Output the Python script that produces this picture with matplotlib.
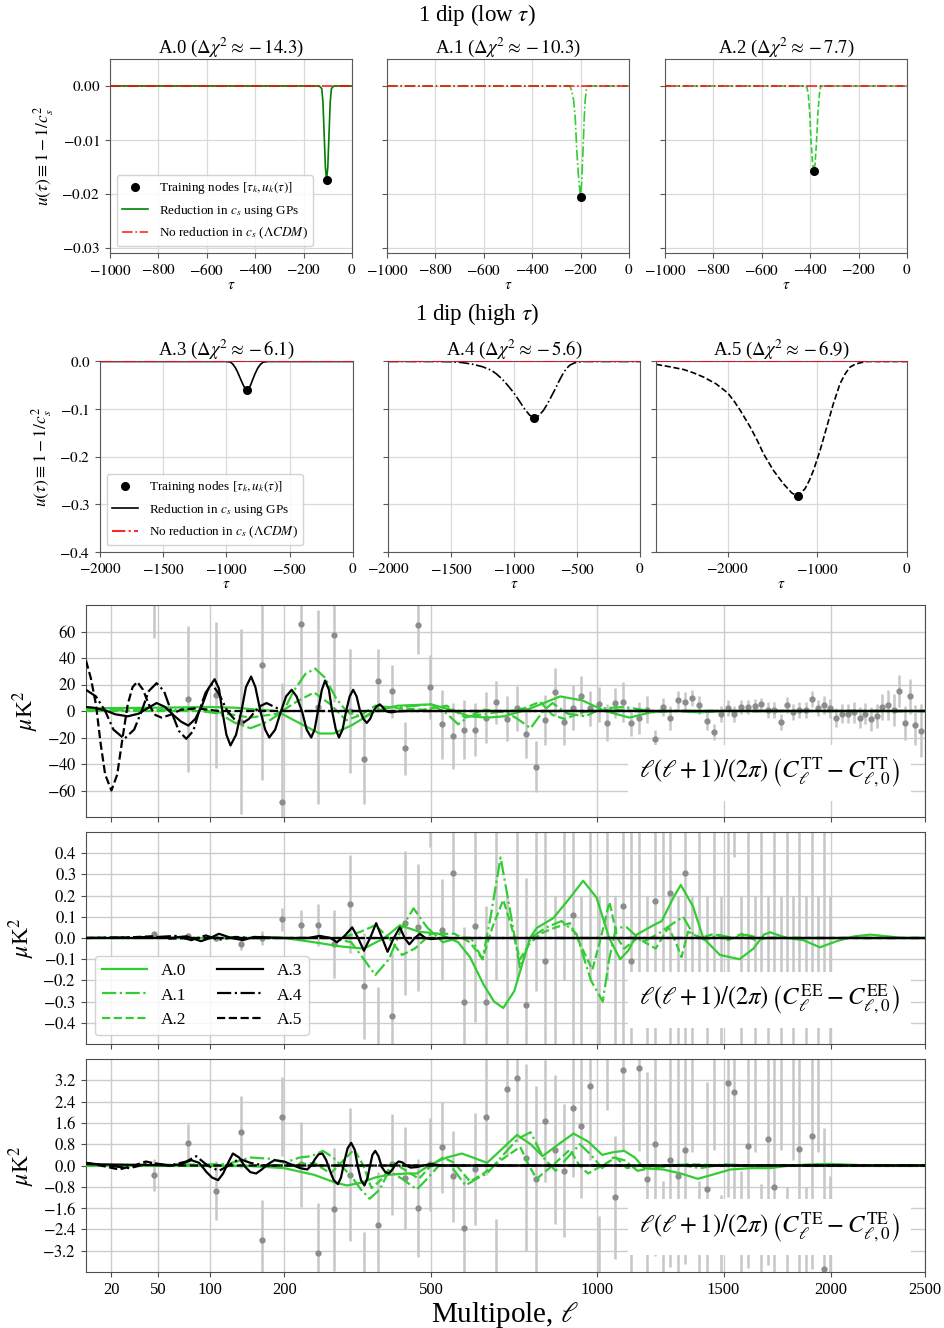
import numpy as np
import matplotlib.pyplot as plt
from matplotlib.ticker import FuncFormatter

plt.rcParams['font.family'] = 'serif'
plt.rcParams['font.serif'] = ['Liberation Serif', 'DejaVu Serif']
plt.rcParams['mathtext.fontset'] = 'stix'

# ---------------- top rows: u(tau) reconstructions ----------------
tau_A0 = [-1000, -135, -125, -120, -115, -110, -105, -100, -95, -90, -85, -75, 0]
u_A0 = [0, 0, -0.0005, -0.003, -0.009, -0.015, -0.0175, -0.015, -0.009, -0.003, -0.0005, 0, 0]
node_A0 = (-105, -0.0175)

tau_A1 = [-1000, -245, -237, -229, -222, -216, -210, -205, -200, -195, -190, -185, -181, -176, -170, 0]
u_A1 = [0, 0, -0.0008, -0.0026, -0.006, -0.0118, -0.016, -0.0186, -0.0207, -0.0175, -0.0118, -0.006,
        -0.0026, -0.0006, 0, 0]
node_A1 = (-200, -0.0207)

tau_A2 = [-1000, -415, -408, -402, -396, -390, -385, -380, -374, -368, -362, -356, 0]
u_A2 = [0, 0, -0.0015, -0.005, -0.0105, -0.0145, -0.0158, -0.0145, -0.0105, -0.005, -0.0015, 0, 0]
node_A2 = (-385, -0.0158)

tau_A3 = [-2000, -1010, -970, -950, -930, -911, -890, -872, -855, -840, -825, -810, -793, -773, -753,
          -733, -713, -690, -660, 0]
u_A3 = [0, 0, -0.001, -0.0056, -0.013, -0.023, -0.036, -0.047, -0.056, -0.06, -0.057, -0.05, -0.038,
        -0.025, -0.014, -0.0065, -0.002, -0.0005, 0, 0]
node_A3 = (-840, -0.06)

tau_A4 = [-2000, -1600, -1510, -1420, -1331, -1250, -1183, -1140, -1094, -1050, -1004, -960, -915, -875,
          -840, -805, -767, -737, -707, -677, -648, -618, -588, -558, -529, -500, -450, 0]
u_A4 = [0, 0, -0.0005, -0.002, -0.0056, -0.011, -0.018, -0.026, -0.037, -0.05, -0.065, -0.082, -0.1,
        -0.113, -0.117, -0.114, -0.103, -0.09, -0.075, -0.06, -0.044, -0.029, -0.016, -0.008, -0.004,
        -0.0015, 0, 0]
node_A4 = (-838, -0.118)

tau_A5 = [-2800, -2650, -2489, -2380, -2267, -2130, -2000, -1930, -1859, -1748, -1670, -1600, -1489,
          -1378, -1285, -1219, -1137, -1090, -1044, -970, -896, -822, -748, -690, -637, -580, -526,
          -450, 0]
u_A5 = [-0.006, -0.011, -0.017, -0.024, -0.033, -0.047, -0.066, -0.083, -0.103, -0.138, -0.166, -0.194,
        -0.229, -0.257, -0.276, -0.283, -0.267, -0.25, -0.229, -0.187, -0.138, -0.089, -0.047, -0.026,
        -0.012, -0.006, -0.003, 0, 0]
node_A5 = (-1219, -0.283)

titles_low = ['A.0 ($\\Delta\\chi^2 \\approx -14.3$)', 'A.1 ($\\Delta\\chi^2 \\approx -10.3$)',
              'A.2 ($\\Delta\\chi^2 \\approx -7.7$)']
titles_high = ['A.3 ($\\Delta\\chi^2 \\approx -6.1$)', 'A.4 ($\\Delta\\chi^2 \\approx -5.6$)',
               'A.5 ($\\Delta\\chi^2 \\approx -6.9$)']

# ---------------- bottom: residual spectra ----------------
ell_bins = np.arange(47, 2478, 30)

tt_val = [90, 9, 12, -8, 35, -69, 66, 3, 57, 0, -36, 23, 15, -28, 65, 18, -10, -19, -14, -14,
          -5, 6.5, -6, 2, -17.6, -42, -7, 14.6, -8, 2.5,
          11.3, 2, 5, -9, 6, 7, -9, -5, 1, -21,
          3, -5, 8, 7, 9.5, 4.5, -7.5, -15.6, -2.5, 2,
          -2, 3, 3, 4, 5, 1, 1, -8.5, 4.5, -1,
          1, 1, 9, 2, 4.5, 2, -5, -2, -2, -1,
          -5, -2, -6, -3.5, 3, 4.5, 1, 15, -9, 11,
          -10.5, -15]
tt_err = [35, 55, 55, 70, 87, 90, 87, 73, 50, 47, 34, 24, 20, 20, 22, 24, 26, 25, 22, 20,
          19, 16, 17, 17, 18, 19, 19, 18, 18, 17,
          15, 13, 13, 14, 11, 15, 10, 12, 10, 7,
          7, 9, 7, 7, 6, 7, 7, 6, 6, 6,
          6, 5, 5, 5, 5, 6, 6, 6, 6, 6,
          6, 6, 6, 6, 7, 7, 7, 7, 7, 8,
          8, 8, 9, 9, 10, 11, 12, 12, 13, 13,
          15, 20]

ee_val = [0.02, 0.011, 0.0, -0.027, 0.0, 0.088, 0.063, 0.06, -0.03, 0.16, -0.225, -0.55, -0.37, 0.07,
          0.05, 0.65, 0.04, 0.305, -0.3, 0.055,
          -0.3, 0.7, -0.8, 0.9, -0.315, 0.75, -0.11, -0.9, 0.8, 0.11,
          -0.7, 0.9, -1.0, 0.8, -0.9, 0.15, -0.11, 0.9, -1.0, 0.175,
          1.0, 0.21, -0.9, 0.305, -1.1, 1.0, -1.0, 1.1, -0.9, 0.8,
          0.8, -1.0, 1.1, -1.2, 1.0, -1.1, 1.2, -1.0, 1.1, -1.2,
          1.2, -1.1, 1.3, -1.2, 1.3, -1.3]
ee_err = [0.01, 0.012, 0.015, 0.03, 0.035, 0.055, 0.07, 0.1, 0.16, 0.23, 0.25, 0.32, 0.3, 0.34, 0.3,
          0.22, 0.24, 0.28, 0.35, 0.45,
          0.45, 0.9, 1.0, 1.1, 0.6, 1.0, 0.7, 1.1, 1.0, 0.8,
          0.9, 1.1, 1.2, 1.0, 1.1, 0.9, 0.9, 1.1, 1.2, 1.0,
          1.2, 1.0, 1.1, 1.0, 1.3, 1.2, 1.2, 1.3, 1.1, 1.0,
          0.42, 1.2, 1.3, 1.4, 1.2, 1.3, 1.4, 1.2, 1.3, 1.4,
          1.4, 1.3, 1.5, 1.4, 1.5, 1.5]

te_val = [-0.35, 0.84, -0.94, 1.25, -2.8, 1.84, 0.05, -3.3, -1.65, -0.35, -4.6, -2.25, 0.05, -0.47,
          -1.6, 0.05, 0.68, -0.41, -2.35, -0.12,
          1.84, -4.5, 2.87, 3.3, 0.3, -0.5, 1.67, 0.6, -0.2, 2.15,
          1.48, 3.0, -4.5, 5.0, -1.2, 3.6, -5.0, 3.66, -0.5, 0.8,
          -5.0, 0.2, -0.4, 0.6, 5.0, -5.2, -0.88, 5.4, -5.5, 3.1,
          2.75, -5.0, 0.75, 5.5, -5.6, 0.98, -0.8, 5.8, -5.8, 5.5,
          0.62, -6.0, 1.1, 6.0, -3.9, -6.0]
te_err = [0.6, 0.7, 1.1, 1.35, 1.5, 1.5, 1.6, 1.9, 2.3, 2.5, 2.1, 2.0, 1.9, 1.9, 1.85, 1.75, 1.7, 1.7,
          1.95, 2.1,
          2.2, 2.5, 2.5, 2.4, 3.5, 3.5, 2.3, 2.8, 2.5, 2.6,
          2.7, 2.8, 2.6, 2.9, 2.3, 3.0, 3.3, 3.1, 4.0, 4.2,
          4.4, 4.0, 4.5, 4.3, 4.5, 4.6, 4.0, 4.8, 4.4, 4.3,
          4.5, 4.8, 4.6, 5.0, 4.9, 4.7, 4.8, 5.2, 5.0, 5.3,
          5.0, 5.2, 5.0, 5.5, 5.3, 5.6]

# model residual curves (ell, value)
tt_ell = {
    'A.0': [9.3, 50, 100, 130, 160, 188, 220, 260, 285, 320, 370, 420, 500, 550, 600, 650, 700, 780, 875,
            950, 1030, 1120, 1200, 1300, 1400, 1500, 2500],
    'A.1': [9.3, 80, 110, 130, 150, 175, 199, 215, 235, 252, 270, 290, 310, 345, 380, 430, 500, 540, 570,
            600, 650, 700, 740, 780, 820, 850, 900, 960, 1020, 1100, 1200, 1300, 2500],
    'A.2': [9.3, 100, 150, 190, 220, 250, 280, 310, 340, 370, 420, 480, 540, 590, 640, 700, 760, 810, 850,
            890, 950, 1050, 1150, 2500],
    'A.3': [9.3, 12, 17, 22, 29, 36, 42, 49, 56, 63, 70, 77, 84, 91, 98, 105, 110, 114, 119, 124, 131,
            138, 144, 151, 157, 164, 171, 177, 186, 195, 203, 212, 220, 229, 237, 245, 251, 257, 264,
            270, 277, 283, 290, 296, 303, 310, 317, 324, 331, 338, 345, 352, 359, 366, 373, 380, 386,
            393, 399, 405, 420, 440, 500, 2500],
    'A.4': [9.3, 13, 17, 21, 27, 33, 38, 43, 49, 55, 61, 68, 75, 82, 88, 95, 102, 110, 120, 130, 140,
            148, 157, 165, 173, 185, 200, 230, 2500],
    'A.5': [9.3, 11, 13, 15, 17, 20, 23, 26, 29, 32, 35, 39, 43, 48, 53, 60, 70, 85, 110, 150, 2500],
}
tt_mod = {
    'A.0': [2, 2.5, 3, 2.5, 1, 0, -8, -17, -17, -11, 0, 4, 5, 1, -4, -5, -4, 2, 11, 8, 0, -5, -1, 0, -1,
            0, 0],
    'A.1': [0.5, 1, -2, -9, -13, -8, 0, 15, 28, 32, 25, 10, 0, -5, 3, 3, 5, -2, -10, -4, -2, 0, -6, -13,
            0, 6, -2, -4, 2, 3, 0, 0, 0],
    'A.2': [0, 0, -5, -2, 7, 14, 5, -7, -3, 4, 2, 1, 4, -5, 1, -1, 2, 7, -3, -6, -1, 1, 0, 0],
    'A.3': [3, 2.5, 0.5, -2.5, -4, -2, 2, 6, 3, -3, -8, -11, -6, 4, 17, 24, 17, 0, -18, -26, -18, 0, 18,
            26, 18, 0, -14, -20, -14, 0, 11, 16, 11, 0, -14, -20, -14, 0, 16, 23, 16, 0, -14, -20, -14,
            0, 11, 16, 11, 0, -6, -9, -6, 0, 3.5, 5, 3, 0, -0.7, -1, -0.3, 0, 0, 0],
    'A.4': [16, 11, 0, -14, -21, -14, 0, 15, 21, 15, 0, -15, -21, -15, 0, 14, 20, 13, 0, -7, -9, -6, 0,
            4, 6, 3, 0, 0, 0],
    'A.5': [38, 25, 5, -25, -48, -60, -48, -20, 5, 18, 22, 16, 5, -3, -5, -3, 1, 2, 0, 0, 0],
}

ee_ell = {
    'A.0': [9.3, 200, 250, 300, 346, 390, 425, 470, 520, 570, 602, 640, 670, 697, 730, 778, 799, 853, 908,
            953, 1000, 1045, 1085, 1115, 1147, 1211, 1244, 1290, 1320, 1370, 1413, 1484, 1570, 1632,
            1680, 1708, 1786, 1865, 1947, 2030, 2115, 2202, 2290, 2380, 2500],
    'A.1': [9.3, 280, 320, 346, 370, 400, 430, 457, 490, 530, 570, 605, 637, 660, 689, 715, 747, 780, 830,
            880, 930, 980, 1022, 1045, 1070, 1110, 1170, 1230, 1290, 1330, 1370, 1420, 1480, 1540,
            1600, 1660, 1720, 2500],
    'A.2': [9.3, 300, 340, 370, 400, 430, 460, 500, 560, 602, 637, 665, 697, 722, 747, 775, 810, 860, 908,
            950, 985, 1015, 1046, 1075, 1100, 1150, 1220, 1270, 1300, 1323, 1350, 1400, 1460, 1520,
            1580, 1640, 1700, 2500],
    'A.3': [9.3, 60, 75, 90, 100, 110, 125, 140, 155, 175, 200, 240, 260, 280, 292, 307, 322, 334, 346,
            359, 372, 385, 397, 411, 425, 436, 447, 460, 472, 486, 500, 530, 2500],
    'A.4': [9.3, 50, 65, 80, 95, 110, 130, 150, 180, 2500],
    'A.5': [9.3, 30, 45, 60, 80, 2500],
}
ee_mod = {
    'A.0': [0, 0, -0.02, -0.04, -0.05, 0.0, 0.06, 0.03, 0.02, -0.02, -0.09, -0.22, -0.3, -0.33, -0.25,
            0.0, 0.047, 0.094, 0.19, 0.27, 0.19, 0.0, -0.1, -0.06, 0.016, 0.06, 0.08, 0.19, 0.25, 0.15,
            0.0, -0.08, -0.1, -0.05, 0.016, 0.027, 0.0, -0.01, -0.044, -0.015, 0.007, 0.016, 0.008, 0.0,
            0.0],
    'A.1': [0, 0, -0.02, -0.1, -0.175, -0.1, 0.05, 0.14, 0.05, -0.02, 0.0, 0.0, -0.1, 0.1, 0.38, 0.15,
            -0.14, 0.0, 0.05, 0.08, 0.02, -0.2, -0.3, -0.1, 0.05, 0.05, -0.02, 0.02, 0.07, 0.1, 0.02,
            -0.01, 0.015, 0.0, 0.015, 0.0, 0.0, 0.0],
    'A.2': [0, 0, 0.03, 0.06, 0.0, -0.08, -0.05, 0.02, 0.02, -0.02, -0.1, 0.05, 0.18, 0.05, -0.1, -0.03,
            0.02, 0.05, 0.07, -0.05, -0.15, 0.0, 0.17, 0.0, -0.05, 0.0, -0.05, 0.05, -0.02, -0.09, 0.03,
            0.0, 0.02, -0.01, 0.02, -0.01, 0.0, 0.0],
    'A.3': [0, 0, 0.008, -0.015, 0.0, 0.02, 0.0, -0.01, 0.005, 0.003, 0, 0, 0.01, 0, -0.02, 0.01, 0.05,
            0, -0.06, 0, 0.07, 0, -0.065, 0, 0.05, 0, -0.03, 0, 0.02, 0, -0.005, 0, 0],
    'A.4': [0, 0.005, 0.01, -0.01, 0.012, -0.008, 0.005, 0, 0, 0],
    'A.5': [0, 0.003, 0.008, -0.003, 0, 0],
}

te_ell = {
    'A.0': [9.3, 150, 200, 250, 290, 312, 340, 370, 400, 440, 465, 500, 540, 580, 610, 650, 700, 738, 780,
            818, 870, 920, 970, 1020, 1060, 1100, 1140, 1175, 1250, 1320, 1390, 1450, 1530, 1620, 1708,
            1800, 1900, 2000, 2100, 2200, 2500],
    'A.1': [9.3, 120, 150, 180, 200, 225, 245, 266, 285, 300, 320, 340, 358, 380, 400, 430, 465, 490, 520,
            550, 590, 620, 650, 690, 740, 780, 820, 860, 900, 942, 980, 1020, 1060, 1100, 1150, 1200,
            1300, 1400, 1500, 1600, 2500],
    'A.2': [9.3, 200, 250, 280, 300, 326, 345, 362, 385, 410, 440, 470, 500, 530, 560, 602, 640, 690, 748,
            775, 799, 850, 908, 940, 970, 1020, 1070, 1110, 1160, 1250, 1350, 1500, 2500],
    'A.3': [9.3, 40, 60, 70, 80, 88, 96, 102, 109, 115, 121, 127, 135, 143, 150, 158, 166, 175, 185, 200,
            215, 226, 238, 245, 252, 258, 265, 272, 279, 286, 294, 300, 307, 313, 320, 327, 333, 340,
            347, 353, 359, 364, 370, 377, 384, 392, 400, 408, 415, 422, 430, 440, 450, 465, 480, 500,
            530, 2500],
    'A.4': [9.3, 18, 30, 45, 60, 75, 85, 97, 110, 122, 135, 150, 170, 200, 2500],
    'A.5': [9.3, 15, 24, 33, 41, 50, 60, 2500],
}
te_mod = {
    'A.0': [0, -0.02, -0.1, -0.35, -0.65, -0.75, -0.65, -0.45, -0.35, -0.3, -0.3, 0.05, 0.3, 0.45, 0.3,
            0.1, 0.7, 1.15, 0.8, 0.35, 0.8, 1.2, 0.9, 0.4, 0.5, 0.55, 0.3, -0.1, -0.15, -0.3, -0.5,
            -0.35, -0.15, -0.1, -0.1, 0.0, 0.04, 0.06, 0.03, 0.0, 0.0],
    'A.1': [0, 0.05, 0.3, 0.25, 0.1, 0.3, 0.35, 0.55, 0.3, 0.0, -0.4, -0.9, -1.25, -0.9, -0.2, -0.5,
            -0.9, -0.5, 0.0, 0.0, -0.75, -0.5, -0.3, 0.3, 1.0, 1.25, 0.3, -0.2, 0.3, 0.8, 0.4, -0.1, 0.3,
            0.2, -0.2, -0.1, 0.05, -0.1, 0.05, 0.0, 0.0],
    'A.2': [0, 0, 0.1, -0.3, 0.1, 0.6, 0.0, -0.85, -0.5, 0.1, -0.2, -0.5, 0.0, 0.3, 0.1, -0.6, -0.3, 0.2,
            0.7, 0.0, -0.5, 0.0, 0.6, 0.0, -0.3, 0.0, 0.3, -0.1, 0.0, -0.05, 0.05, 0.0, 0.0],
    'A.3': [0.05, 0.02, 0.0, 0.05, 0.2, 0.1, -0.25, -0.45, -0.55, -0.3, 0.1, 0.45, 0.3, -0.05, -0.25,
            -0.3, -0.15, 0.05, 0.2, 0.15, 0.0, -0.1, -0.15, 0.0, 0.25, 0.42, 0.45, 0.2, -0.2, -0.55,
            -0.7, -0.45, 0.2, 0.65, 0.85, 0.6, 0.0, -0.55, -0.75, -0.5, 0.0, 0.4, 0.55, 0.35, -0.05,
            -0.25, -0.3, -0.15, 0.05, 0.15, 0.12, 0.0, -0.08, -0.06, 0.0, 0.05, 0.0, 0.0],
    'A.4': [0.1, 0.0, -0.1, 0.1, 0.0, 0.15, 0.35, 0.0, -0.2, 0.0, 0.25, 0.1, 0.0, 0.0, 0.0],
    'A.5': [0.1, 0.0, -0.15, 0.0, 0.15, 0.05, 0.0, 0.0],
}

models = ['A.0', 'A.1', 'A.2', 'A.3', 'A.4', 'A.5']
mcolor = {'A.0': 'limegreen', 'A.1': 'limegreen', 'A.2': 'limegreen',
          'A.3': 'black', 'A.4': 'black', 'A.5': 'black'}
mstyle = {'A.0': '-', 'A.1': '-.', 'A.2': '--', 'A.3': '-', 'A.4': '-.', 'A.5': '--'}

# ======================================================================
W, H = 945, 1328
fig = plt.figure(figsize=(W / 100, H / 100), dpi=100)


def box(x0, x1, y0, y1):
    return [x0 / W, 1 - y1 / H, (x1 - x0) / W, (y1 - y0) / H]


def math_fmt(fmt):
    # tick labels as math text, so the minus sign is a real one
    return FuncFormatter(lambda v, p: '$%s$' % (fmt % v))


def style_axes(ax):
    ax.grid(True, color='0.85', lw=0.9)
    ax.set_axisbelow(True)
    for s in ax.spines.values():
        s.set_color('0.35')
    ax.tick_params(labelsize=11, color='0.35')
    ax.xaxis.set_major_formatter(math_fmt('%d'))


# row 1
row1 = [(110, 352), (387, 629), (665, 907)]
curves1 = [(tau_A0, u_A0, node_A0, 'green', '-'),
           (tau_A1, u_A1, node_A1, 'limegreen', '-.'),
           (tau_A2, u_A2, node_A2, 'limegreen', '--')]
for i, ((x0, x1), (t, u, nd, c, ls)) in enumerate(zip(row1, curves1)):
    ax = fig.add_axes(box(x0, x1, 59, 253))
    style_axes(ax)
    ax.plot(t, u, color=c, ls=ls, lw=1.2, zorder=2, label='Reduction in $c_s$ using GPs')
    ax.axhline(0, color='red', ls='-.', lw=1.2, alpha=0.85, zorder=3,
               label='No reduction in $c_s$ ($\\Lambda CDM$)')
    ax.plot([nd[0]], [nd[1]], 'o', color='black', ms=5.5, zorder=4,
            label='Training nodes $[\\tau_k, u_k(\\tau)]$')
    ax.set_xlim(-1000, 0)
    ax.set_ylim(-0.031, 0.005)
    ax.set_yticks([0.0, -0.01, -0.02, -0.03])
    ax.yaxis.set_major_formatter(math_fmt('%.2f'))
    ax.set_xlabel('$\\tau$', fontsize=11, labelpad=1)
    ax.set_title(titles_low[i], fontsize=13.5, pad=4)
    if i == 0:
        ax.set_ylabel('$u(\\tau) \\equiv 1 - 1/c_s^2$', fontsize=12.5)
        h, l = ax.get_legend_handles_labels()
        ax.legend([h[2], h[0], h[1]], [l[2], l[0], l[1]], loc='lower left', fontsize=9.5,
                  framealpha=0.85)
    else:
        ax.set_yticklabels([])

# row 2
row2 = [(100, 353), (388, 640), (656, 907)]
curves2 = [(tau_A3, u_A3, node_A3, '-', (-2000, 0), [-2000, -1500, -1000, -500, 0]),
           (tau_A4, u_A4, node_A4, '-.', (-2000, 0), [-2000, -1500, -1000, -500, 0]),
           (tau_A5, u_A5, node_A5, '--', (-2800, 0), [-2000, -1000, 0])]
for i, ((x0, x1), (t, u, nd, ls, xl, xt)) in enumerate(zip(row2, curves2)):
    ax = fig.add_axes(box(x0, x1, 361, 552))
    style_axes(ax)
    ax.plot(t, u, color='black', ls=ls, lw=1.2, zorder=2, label='Reduction in $c_s$ using GPs')
    ax.axhline(0, color='red', ls='-.', lw=1.5, alpha=0.85, zorder=3,
               label='No reduction in $c_s$ ($\\Lambda CDM$)')
    ax.plot([nd[0]], [nd[1]], 'o', color='black', ms=5.5, zorder=4,
            label='Training nodes $[\\tau_k, u_k(\\tau)]$')
    ax.set_xlim(*xl)
    ax.set_xticks(xt)
    ax.set_ylim(-0.4, 0.001)
    ax.set_yticks([0.0, -0.1, -0.2, -0.3, -0.4])
    ax.yaxis.set_major_formatter(math_fmt('%.1f'))
    ax.set_xlabel('$\\tau$', fontsize=11, labelpad=1)
    ax.set_title(titles_high[i], fontsize=13.5, pad=4)
    if i == 0:
        ax.set_ylabel('$u(\\tau) \\equiv 1 - 1/c_s^2$', fontsize=12.5)
        h, l = ax.get_legend_handles_labels()
        ax.legend([h[2], h[0], h[1]], [l[2], l[0], l[1]], loc='lower left', fontsize=9.5,
                  framealpha=0.85)
    else:
        ax.set_yticklabels([])

fig.text(477 / W, 1 - 15 / H, '1 dip (low $\\tau$)', ha='center', va='center', fontsize=16.5)
fig.text(477 / W, 1 - 314 / H, '1 dip (high $\\tau$)', ha='center', va='center', fontsize=16.5)


# bottom panels
def fwd(x):
    return np.sqrt(np.clip(x, 0, None))


def inv(x):
    return np.square(x)


panels = [
    (605, 817, tt_val, tt_err, tt_ell, tt_mod, (-80, 80), [-60, -40, -20, 0, 20, 40, 60], '%d', 'TT'),
    (832, 1044, ee_val, ee_err, ee_ell, ee_mod, (-0.5, 0.5),
     [-0.4, -0.3, -0.2, -0.1, 0.0, 0.1, 0.2, 0.3, 0.4], '%.1f', 'EE'),
    (1059, 1272, te_val, te_err, te_ell, te_mod, (-4, 4),
     [-3.2, -2.4, -1.6, -0.8, 0.0, 0.8, 1.6, 2.4, 3.2], '%.1f', 'TE'),
]
xt = [20, 50, 100, 200, 500, 1000, 1500, 2000, 2500]
for j, (y0, y1, dv, de, mel, mval, yl, yt, fmt, lab) in enumerate(panels):
    ax = fig.add_axes(box(86, 925, y0, y1))
    ax.set_xscale('function', functions=(fwd, inv))
    ax.grid(True, color='0.8', lw=1.0)
    ax.set_axisbelow(True)
    for s in ax.spines.values():
        s.set_color('0.3')
    n = len(dv)
    ax.errorbar(ell_bins[:n], dv, yerr=de, fmt='o', color='0.55', ms=3.5, ecolor='0.78',
                elinewidth=1.8, capsize=0, zorder=1)
    for m in models:
        ax.plot(mel[m], mval[m], color=mcolor[m], ls=mstyle[m], lw=1.6, label=m, zorder=3)
    ax.set_xlim(9.3, 2500)
    ax.set_ylim(*yl)
    ax.set_yticks(yt)
    ax.yaxis.set_major_formatter(math_fmt(fmt))
    ax.set_xticks(xt)
    ax.tick_params(labelsize=12, color='0.3')
    if j < 2:
        ax.set_xticklabels([])
    else:
        ax.set_xticklabels([str(v) for v in xt])
        ax.set_xlabel('Multipole, $\\ell$', fontsize=21, labelpad=2)
    ax.set_ylabel('$\\mu$K$^2$', fontsize=17)
    ax.text(0.97, 0.13,
            '$\\ell(\\ell+1)/(2\\pi)\\,\\left(C_\\ell^{\\rm %s}-C_{\\ell,0}^{\\rm %s}\\right)$' % (lab, lab),
            transform=ax.transAxes, ha='right', va='bottom', fontsize=17.7, zorder=5,
            bbox=dict(facecolor='white', edgecolor='none', pad=8))
    if lab == 'EE':
        ax.legend(loc='lower left', ncol=2, fontsize=12.5, handlelength=2.6, columnspacing=1.8,
                  framealpha=0.85)

fig.savefig('out.png', dpi=100)
